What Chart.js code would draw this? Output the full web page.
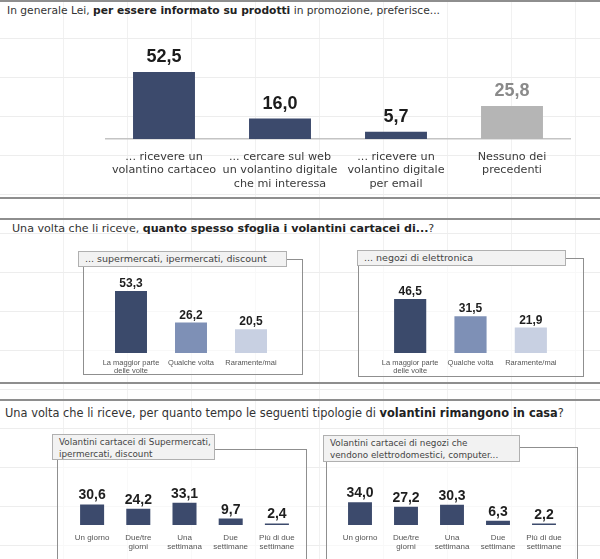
<!DOCTYPE html>
<html>
<head>
<meta charset="utf-8">
<script src="https://cdn.jsdelivr.net/npm/chart.js@4.4.1/dist/chart.umd.min.js"></script>
<style>
  body { margin: 0; background: #fff; }
  #page {
    position: relative; width: 600px; height: 559px; overflow: hidden;
    font-family: "DejaVu Sans", sans-serif; color: #3a3a3a;
    background-image:
      repeating-linear-gradient(to bottom, transparent 0 38px, #ededed 38px 39px),
      repeating-linear-gradient(to right, transparent 0 63px, #f1f1f1 63px 64px);
  }
  .rule { position: absolute; left: 0; width: 600px; height: 2px; background: #8e8e8e; }
  .title { position: absolute; white-space: nowrap; color: #333; }
  .title b { color: #222; }
  .frame { position: absolute; border: 1px solid #8f8f8f; box-sizing: border-box; background: rgba(255,255,255,0.6); }
  .tag {
    position: absolute; box-sizing: border-box; border: 1px solid #b0b0b0;
    background: #f2f2f2; padding: 1px 0 0 6px; color: #444; white-space: nowrap;
  }
  .box { position: absolute; }
</style>
</head>
<body>
<div id="page">
  <div class="rule" style="top:0"></div>
  <div class="title" style="left:7px;top:4px;font-size:10.7px">In generale Lei, <b>per essere informato su prodotti</b> in promozione, preferisce...</div>
  <div class="box" style="left:0;top:0;width:600px;height:198px"><canvas id="prefChart"></canvas></div>
  <div class="rule" style="top:197px"></div>

  <div class="rule" style="top:218px"></div>
  <div class="title" style="left:12px;top:222px;font-size:11.1px">Una volta che li riceve, <b>quanto spesso sfoglia i volantini cartacei di...</b>?</div>
  <div class="frame" style="left:83px;top:259px;width:220px;height:116px"></div>
  <div class="tag" style="left:78px;top:251px;width:209px;height:16px;font-size:9.5px;line-height:12px">... supermercati, ipermercati, discount</div>
  <div class="box" style="left:83px;top:268px;width:220px;height:107px"><canvas id="freqSuperChart"></canvas></div>
  <div class="frame" style="left:358px;top:258px;width:226px;height:119px"></div>
  <div class="tag" style="left:357px;top:250px;width:209px;height:16px;font-size:9.5px;line-height:12px">... negozi di elettronica</div>
  <div class="box" style="left:358px;top:268px;width:226px;height:107px"><canvas id="freqElecChart"></canvas></div>
  <div class="rule" style="top:382px"></div>

  <div class="rule" style="top:399px"></div>
  <div class="title" style="left:5px;top:406px;font-size:11.4px">Una volta che li riceve, per quanto tempo le seguenti tipologie di <b>volantini rimangono in casa</b>?</div>
  <div class="frame" style="left:57px;top:449px;width:250px;height:130px"></div>
  <div class="tag" style="left:52px;top:434px;width:163px;height:26px;font-size:8.8px;line-height:12px">Volantini cartacei di Supermercati,<br>ipermercati, discount</div>
  <div class="box" style="left:57px;top:462px;width:250px;height:97px"><canvas id="staySuperChart"></canvas></div>
  <div class="frame" style="left:326px;top:447px;width:252px;height:130px"></div>
  <div class="tag" style="left:323px;top:435px;width:197px;height:27px;font-size:8.8px;line-height:12px">Volantini cartacei di negozi che<br>vendono elettrodomestici, computer...</div>
  <div class="box" style="left:326px;top:462px;width:252px;height:97px"><canvas id="stayElecChart"></canvas></div>
</div>

<script>
// --- Data ---
const prefCategories = [
    ['... ricevere un', 'volantino cartaceo'],
    ['... cercare sul web', 'un volantino digitale', 'che mi interessa'],
    ['... ricevere un', 'volantino digitale', 'per email'],
    ['Nessuno dei', 'precedenti']
];
const prefValues = [52.5, 16.0, 5.7, 25.8];

const freqCategories = [['La maggior parte', 'delle volte'], 'Qualche volta', 'Raramente/mai'];
const freqSupermarket = [53.3, 26.2, 20.5];
const freqElectronics = [46.5, 31.5, 21.9];

const stayCategories = ['Un giorno', ['Due/tre', 'giorni'], ['Una', 'settimana'], ['Due', 'settimane'], ['Più di due', 'settimane']];
const staySupermarket = [30.6, 24.2, 33.1, 9.7, 2.4];
const stayElectronics = [34.0, 27.2, 30.3, 6.3, 2.2];

// --- Value labels above the bars ---
function fmt(v) {
    return v.toFixed(1).replace('.', ',');
}

const valueLabels = {
    id: 'valueLabels',
    afterDatasetsDraw(chart, args, opts) {
        const ctx = chart.ctx;
        const meta = chart.getDatasetMeta(0);
        const data = chart.data.datasets[0].data;
        ctx.save();
        ctx.font = opts.font;
        ctx.textAlign = 'center';
        ctx.textBaseline = 'alphabetic';
        meta.data.forEach((bar, i) => {
            ctx.fillStyle = Array.isArray(opts.color) ? opts.color[i] : opts.color;
            ctx.fillText(fmt(data[i]), bar.x, bar.y - opts.offset);
        });
        ctx.restore();
    }
};

function makeBarChart(id, labels, values, cfg) {
    const ctx = document.getElementById(id).getContext('2d');
    return new Chart(ctx, {
        type: 'bar',
        data: {
            labels: labels,
            datasets: [{
                data: values,
                backgroundColor: cfg.colors,
                borderWidth: 0,
                barPercentage: cfg.barPct,
                categoryPercentage: 1
            }]
        },
        options: {
            responsive: true,
            maintainAspectRatio: false,
            animation: false,
            layout: { padding: cfg.padding },
            scales: {
                x: {
                    grid: { display: false, drawTicks: false },
                    border: cfg.border,
                    ticks: {
                        color: cfg.tickColor,
                        font: cfg.tickFont,
                        padding: cfg.tickPadding,
                        maxRotation: 0,
                        autoSkip: false
                    },
                    afterFit: (scale) => { scale.height = cfg.axisHeight; }
                },
                y: { display: false, min: 0, max: cfg.max }
            },
            plugins: {
                legend: { display: false },
                tooltip: { enabled: false },
                valueLabels: cfg.labels
            }
        },
        plugins: [valueLabels]
    });
}

const navy = '#3c4a6c';

// Section 1
makeBarChart('prefChart', prefCategories, prefValues, {
    colors: [navy, navy, navy, '#b5b5b5'],
    barPct: 0.534,
    padding: { left: 106, right: 30, top: 62.4, bottom: 0 },
    border: { display: true, color: '#c4c4c4', width: 1.5 },
    tickColor: '#3a3a3a',
    tickFont: { family: 'DejaVu Sans', size: 11.2, lineHeight: 1.2 },
    tickPadding: 11,
    axisHeight: 59,
    max: 60,
    labels: { font: 'bold 18px "Liberation Sans"', color: ['#1c1c1c', '#1c1c1c', '#1c1c1c', '#8a8a8a'], offset: 10 }
});

// Section 2
const freqColors = ['#3b4a6b', '#7e90b6', '#c8d0e2'];
const freqCfg = {
    colors: freqColors,
    barPct: 0.533,
    border: { display: false },
    tickColor: '#555',
    tickFont: { family: 'Liberation Sans', size: 7.5, lineHeight: 1.05 },
    tickPadding: 6,
    axisHeight: 22,
    max: 60,
    labels: { font: 'bold 12px "Liberation Sans"', color: '#1e1e1e', offset: 4 }
};
makeBarChart('freqSuperChart', freqCategories, freqSupermarket,
    Object.assign({}, freqCfg, { padding: { left: 18, right: 22, top: 15.2, bottom: 0 } }));
makeBarChart('freqElecChart', freqCategories, freqElectronics,
    Object.assign({}, freqCfg, { padding: { left: 22, right: 23, top: 15.2, bottom: 0 } }));

// Section 3
const stayCfg = {
    colors: navy,
    barPct: 0.52,
    border: { display: false },
    tickColor: '#555',
    tickFont: { family: 'Liberation Sans', size: 8, lineHeight: 1.05 },
    tickPadding: 9,
    axisHeight: 34,
    max: 40,
    labels: { font: 'bold 14px "Liberation Sans"', color: '#1e1e1e', offset: 5 }
};
makeBarChart('staySuperChart', stayCategories, staySupermarket,
    Object.assign({}, stayCfg, { padding: { left: 12, right: 7, top: 36.2, bottom: 0 } }));
makeBarChart('stayElecChart', stayCategories, stayElectronics,
    Object.assign({}, stayCfg, { padding: { left: 11, right: 11, top: 36.2, bottom: 0 } }));
</script>
</body>
</html>
